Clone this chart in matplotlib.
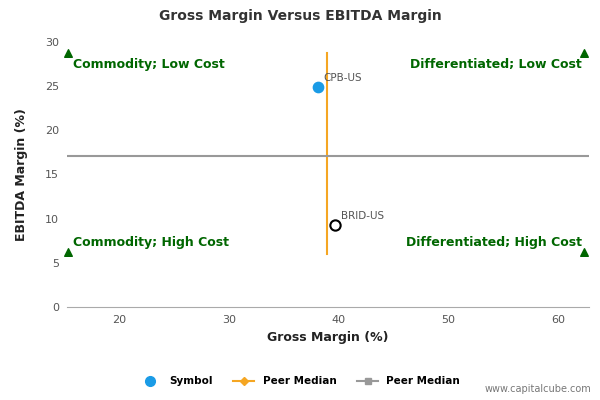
import matplotlib
matplotlib.use("Agg")
import matplotlib.pyplot as plt
from matplotlib.lines import Line2D

symbols = ["CPB-US", "BRID-US"]
gross = [38.1, 39.7]
ebitda = [24.9, 9.3]
filled = [True, False]
peer_gross_median = 38.9
peer_ebitda_median = 17.1
xlim = (15.3, 62.8)
ylim = (0, 30)
vline_range = (6.0, 28.8)
corner_y = (28.8, 6.2)
corner_x = (15.4, 62.3)
quad_labels = ["Commodity; Low Cost", "Differentiated; Low Cost",
               "Commodity; High Cost", "Differentiated; High Cost"]

fig = plt.figure(figsize=(6, 4), dpi=100)
ax = fig.add_axes([0.112, 0.2325, 0.870, 0.6625])
ax.set_xlim(*xlim)
ax.set_ylim(*ylim)
ax.set_xticks([20, 30, 40, 50, 60])
ax.set_yticks([0, 5, 10, 15, 20, 25, 30])
ax.tick_params(labelsize=8, colors="#555555", length=0, pad=6)
for s in ["top", "right", "left"]:
    ax.spines[s].set_visible(False)
ax.spines["bottom"].set_color("#aaaaaa")

ax.plot([peer_gross_median]*2, vline_range, color="#f5a623", lw=1.5, zorder=2)
ax.plot(xlim, [peer_ebitda_median]*2, color="#999999", lw=1.5, zorder=2)

for s, gx, ey, f in zip(symbols, gross, ebitda, filled):
    if f:
        ax.scatter(gx, ey, s=55, color="#1a9be6", zorder=3)
    else:
        ax.scatter(gx, ey, s=55, facecolor="white", edgecolor="black", linewidth=1.5, zorder=3)
    ax.annotate(s, (gx, ey), xytext=(4, 4), textcoords="offset points", fontsize=7.5, color="#555555")

green = "#006600"
for cx in corner_x:
    for cy in corner_y:
        ax.scatter(cx, cy, marker="^", s=30, color=green, zorder=3, clip_on=False)
ax.text(15.85, 27.4, quad_labels[0], color=green, fontsize=9, fontweight="bold", ha="left", va="center")
ax.text(corner_x[1] - 0.2, 27.4, quad_labels[1], color=green, fontsize=9, fontweight="bold", ha="right", va="center")
ax.text(15.85, 7.25, quad_labels[2], color=green, fontsize=9, fontweight="bold", ha="left", va="center")
ax.text(corner_x[1] - 0.2, 7.25, quad_labels[3], color=green, fontsize=9, fontweight="bold", ha="right", va="center")

ax.set_xlabel("Gross Margin (%)", fontsize=9, fontweight="bold", color="#222222")
ax.set_ylabel("EBITDA Margin (%)", fontsize=9, fontweight="bold", color="#222222", labelpad=12)
fig.text(0.5, 0.96, "Gross Margin Versus EBITDA Margin", ha="center", va="center", fontsize=10, fontweight="bold", color="#333333")

handles = [Line2D([], [], marker="o", ls="", color="#1a9be6", markersize=7),
           Line2D([], [], marker="D", color="#f5a623", markersize=4),
           Line2D([], [], marker="s", color="#999999", markersize=5)]
fig.legend(handles, ["Symbol", "Peer Median", "Peer Median"], loc="center", bbox_to_anchor=(0.5, 0.047),
           ncol=3, frameon=False, prop={"size": 7.5, "weight": "bold"}, handlelength=2)
fig.text(0.985, 0.02, "www.capitalcube.com", ha="right", fontsize=7, color="#777777")
fig.savefig("out.png", dpi=100)
